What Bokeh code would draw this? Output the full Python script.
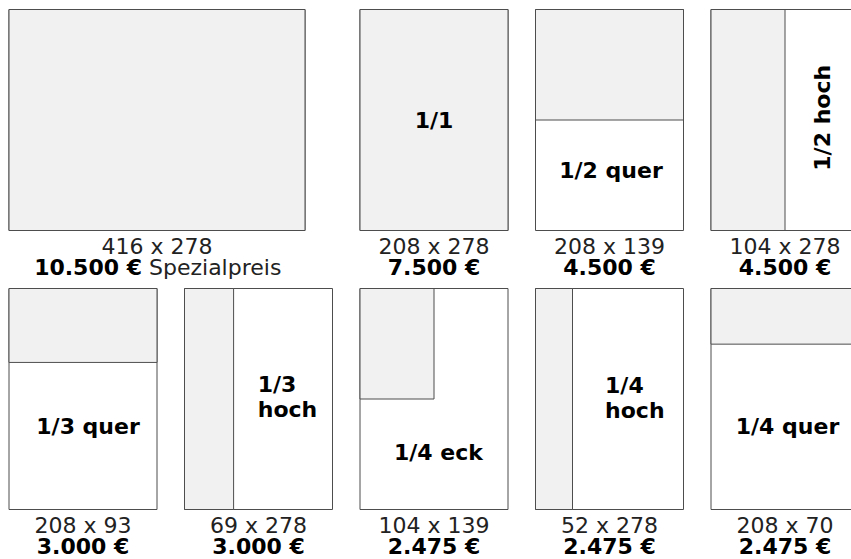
import math
from bokeh.plotting import figure
from bokeh.models import Range1d, ColumnDataSource
from bokeh.core.properties import value
from bokeh.embed import file_html
from bokeh.resources import INLINE

# ---- data (ad formats, sizes in mm, prices) ----
labels = ["", "1/1", "1/2 quer", "1/2 hoch", "1/3 quer", "1/3\nhoch", "1/4 eck", "1/4\nhoch", "1/4 quer"]
ad_w = [416, 208, 208, 104, 208, 69, 104, 52, 208]
ad_h = [278, 278, 139, 278, 93, 278, 139, 278, 70]
prices = ["10.500 €", "7.500 €", "4.500 €", "4.500 €", "3.000 €", "3.000 €", "2.475 €", "2.475 €", "2.475 €"]
notes = ["Spezialpreis", "", "", "", "", "", "", "", ""]
PAGE_W, PAGE_H = 208, 278

# ---- layout ----
slot_row = [0, 0, 0, 0, 1, 1, 1, 1, 1]
slot_col = [0, 2, 3, 4, 0, 1, 2, 3, 4]
label_fx = [0.5, 0.5, 0.51, 0.753, 0.534, 0.495, 0.53, 0.47, 0.517]
label_fy = [0.5, 0.5, 0.73, 0.49, 0.626, 0.49, 0.743, 0.495, 0.626]
label_align = ["center", "center", "center", "center", "center", "left", "center", "left", "center"]
label_angle = [0, 0, 0, math.pi / 2, 0, 0, 0, 0, 0]

W, H = 851, 559
SX, SY = 148 / PAGE_W, 221 / PAGE_H          # px per mm
PITCH_X, PITCH_Y = 175.5 / SX, 279 / SY      # mm between slots
x0 = -8.5 / SX
y0 = -9.0 / SY

FONT = value("DejaVu Sans")
GRAY = "#f1f1f1"
LINE = "#4d4d4d"

page_l, page_r, page_t, page_b = [], [], [], []
ad_l, ad_r, ad_t, ad_b = [], [], [], []
cx, lx, ly = [], [], []
for i in range(len(labels)):
    pw = max(PAGE_W, ad_w[i])
    ph = max(PAGE_H, ad_h[i])
    left = slot_col[i] * PITCH_X
    top = slot_row[i] * PITCH_Y
    page_l.append(left); page_r.append(left + pw)
    page_t.append(top); page_b.append(top + ph)
    ad_l.append(left); ad_r.append(left + ad_w[i])
    ad_t.append(top); ad_b.append(top + ad_h[i])
    cx.append(left + pw / 2)
    lx.append(left + pw * label_fx[i])
    ly.append(top + ph * label_fy[i])

src = ColumnDataSource(dict(
    page_l=page_l, page_r=page_r, page_t=page_t, page_b=page_b,
    ad_l=ad_l, ad_r=ad_r, ad_t=ad_t, ad_b=ad_b,
    cx=cx, lx=lx, ly=ly, label=labels, align=label_align, angle=label_angle,
    size=[f"{w} x {h}" for w, h in zip(ad_w, ad_h)],
    price=prices, note=notes,
))

p = figure(width=W, height=H, output_backend="svg", toolbar_location=None,
           x_range=Range1d(x0, x0 + W / SX), y_range=Range1d(y0 + H / SY, y0),
           x_axis_location=None, y_axis_location=None, min_border=0,
           background_fill_color="white", border_fill_color="white")
p.outline_line_color = None
p.grid.visible = False

p.quad(left="page_l", right="page_r", top="page_t", bottom="page_b", source=src,
       fill_color="white", line_color=LINE, line_width=1)
p.quad(left="ad_l", right="ad_r", top="ad_t", bottom="ad_b", source=src,
       fill_color=GRAY, line_color=LINE, line_width=1)

p.text(x="lx", y="ly", text="label", angle="angle", source=src, text_align="align",
       text_baseline="middle", text_font=FONT, text_font_style="bold",
       text_font_size="22px", text_color="black", text_line_height=1.0)

p.text(x="cx", y="page_b", text="size", source=src, y_offset=15.5,
       text_align="center", text_baseline="middle", text_font=FONT,
       text_font_size="22px", text_color="#222222")

plain = ColumnDataSource(dict(
    cx=[c for c, n in zip(cx, notes) if not n],
    y=[b for b, n in zip(page_b, notes) if not n],
    price=[pr for pr, n in zip(prices, notes) if not n]))
noted = ColumnDataSource(dict(
    cx=[c for c, n in zip(cx, notes) if n],
    y=[b for b, n in zip(page_b, notes) if n],
    price=[pr for pr, n in zip(prices, notes) if n],
    note=[n for n in notes if n]))

PRICE_DY = 37
p.text(x="cx", y="y", text="price", source=plain, y_offset=PRICE_DY,
       text_align="center", text_baseline="middle", text_font=FONT,
       text_font_style="bold", text_font_size="22px", text_color="black")
p.text(x="cx", y="y", text="price", source=noted, y_offset=PRICE_DY, x_offset=-15,
       text_align="right", text_baseline="middle", text_font=FONT,
       text_font_style="bold", text_font_size="22px", text_color="black")
p.text(x="cx", y="y", text="note", source=noted, y_offset=PRICE_DY, x_offset=-8,
       text_align="left", text_baseline="middle", text_font=FONT,
       text_font_size="22px", text_color="#222222")

open("out.html", "w").write(file_html(p, INLINE))
